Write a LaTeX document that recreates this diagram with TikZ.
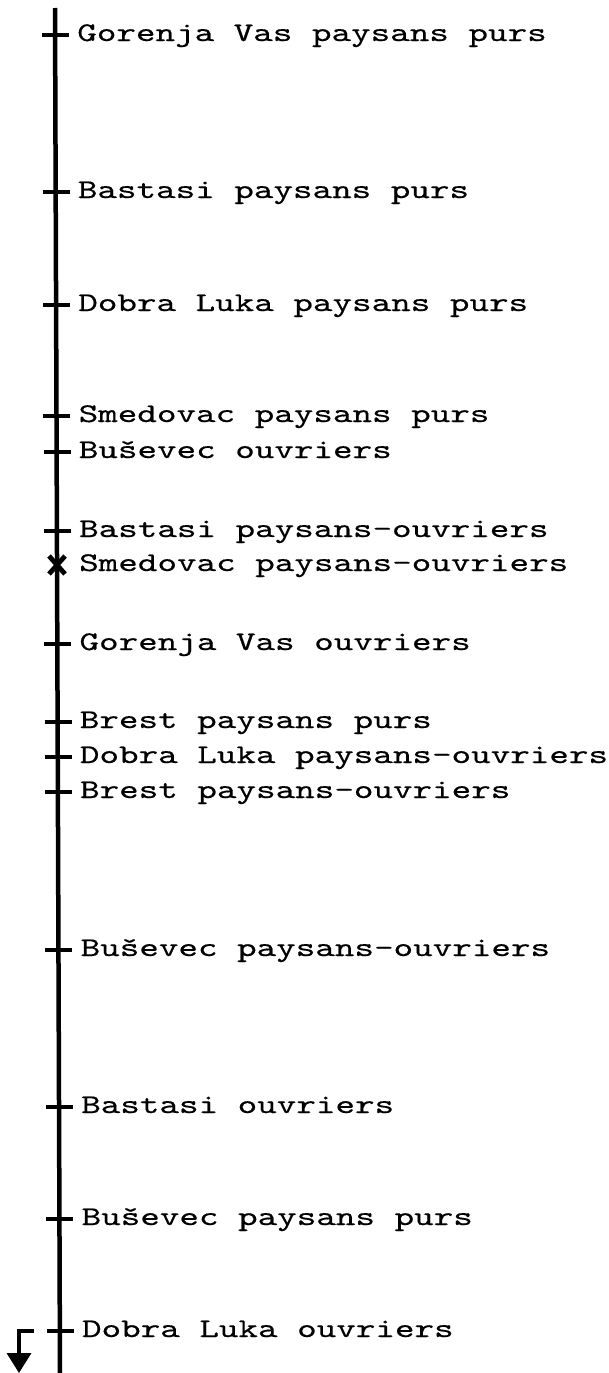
\documentclass[tikz,border=0pt]{standalone}
\usepackage{fontspec}
\newfontfamily\typew[FakeStretch=1.38,FakeBold=0.4]{lmmono10-regular.otf}
\usetikzlibrary{arrows.meta}
\tikzset{
  axis/.style={line width=4.5pt},
  tickmark/.style={line width=3.2pt},
  xmark/.style={line width=4.8pt},
  lab/.style={anchor=base west, inner sep=0pt, font=\typew\fontsize{27}{27}\selectfont},
  pointer/.style={line width=3.6pt, -{Triangle[width=24pt,length=20pt]}}
}
\begin{document}
\begin{tikzpicture}[x=1pt,y=-1pt]
\useasboundingbox (0,0) rectangle (609,1373);
\coordinate (top) at (55,8);
\coordinate (bot) at (60,1373);
\draw[axis] (top) -- (bot);
\foreach \yy/\txt [count=\i] in {
  35/Gorenja Vas paysans purs,
  192/Bastasi paysans purs,
  305/Dobra Luka paysans purs,
  416/Smedovac paysans purs,
  452/Buševec ouvriers,
  531/Bastasi paysans-ouvriers,
  565/Smedovac paysans-ouvriers,
  644/Gorenja Vas ouvriers,
  722/Brest paysans purs,
  757/Dobra Luka paysans-ouvriers,
  792/Brest paysans-ouvriers,
  950/Buševec paysans-ouvriers,
  1107/Bastasi ouvriers,
  1219/Buševec paysans purs,
  1331/Dobra Luka ouvriers}{
  \pgfmathsetmacro{\xl}{55+0.00366*(\yy-8)}
  \node[lab] (t\i) at ({\xl+22},{\yy+6}) {\txt};
  \ifnum\i=7
    \draw[xmark] ({\xl-8},{\yy-9}) -- ({\xl+8},{\yy+9});
    \draw[xmark] ({\xl+8},{\yy-9}) -- ({\xl-8},{\yy+9});
  \else
    \draw[tickmark] ({\xl-13},\yy) -- ({\xl+14},\yy);
  \fi
}
\coordinate (a1) at (34,1331);
\coordinate (a2) at (19,1331);
\coordinate (a3) at (19,1373);
\draw[pointer] (a1) -- (a2) -- (a3);
\end{tikzpicture}
\end{document}
